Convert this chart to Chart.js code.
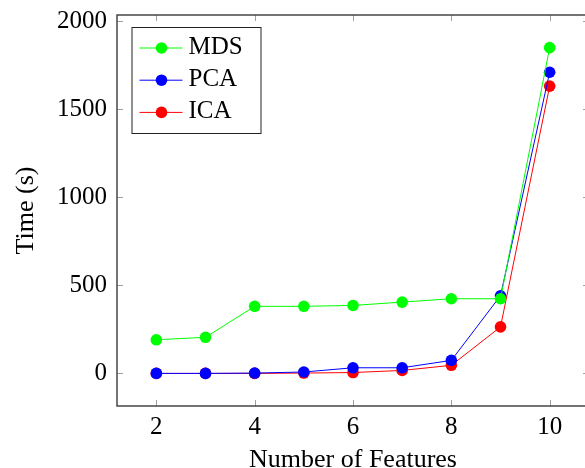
<!DOCTYPE html>
<html>
<head>
<meta charset="utf-8">
<script src="https://cdn.jsdelivr.net/npm/chart.js@4/dist/chart.umd.min.js"></script>
<style>
  html, body { margin: 0; padding: 0; overflow: hidden; background: #fff; }
</style>
</head>
<body>
<canvas id="timeChart" width="600" height="468"></canvas>
<script>
// Data
var features = [2, 3, 4, 5, 6, 7, 8, 9, 10];
var mdsTime = [191, 205, 381, 381, 386, 405, 424, 424, 1850];
var pcaTime = [0, 0, 2, 8, 32, 32, 74, 441, 1710];
var icaTime = [0, 0, 0, 2, 5, 17, 46, 264, 1631];
var xTicks = [2, 4, 6, 8, 10];
var yTicks = [0, 500, 1000, 1500, 2000];

var serif = 'Liberation Serif';

function points(values) {
  return features.map(function (f, i) { return { x: f, y: values[i] }; });
}

function series(label, values, color) {
  return {
    label: label,
    data: points(values),
    borderColor: color,
    backgroundColor: color,
    borderWidth: 1,
    pointRadius: 5.8,
    pointHoverRadius: 5.8,
    pointBorderWidth: 0,
    tension: 0
  };
}

// pgfplots-like frame with inward tick marks
var framePlugin = {
  id: 'frame',
  beforeDatasetsDraw: function (chart) {
    var ctx = chart.ctx, a = chart.chartArea;
    var xs = chart.scales.x, ys = chart.scales.y;
    ctx.save();
    ctx.strokeStyle = '#a0a0a0';
    ctx.lineWidth = 1;
    ctx.beginPath();
    xTicks.forEach(function (v) {
      var px = Math.round(xs.getPixelForValue(v)) + 0.5;
      ctx.moveTo(px, a.bottom); ctx.lineTo(px, a.bottom - 6);
      ctx.moveTo(px, a.top); ctx.lineTo(px, a.top + 6);
    });
    yTicks.forEach(function (v) {
      var py = Math.round(ys.getPixelForValue(v)) + 0.5;
      ctx.moveTo(a.left, py); ctx.lineTo(a.left + 6, py);
      ctx.moveTo(a.right, py); ctx.lineTo(a.right - 6, py);
    });
    ctx.stroke();
    ctx.strokeStyle = '#3a3a3a';
    ctx.lineWidth = 1.4;
    ctx.strokeRect(a.left, a.top, a.right - a.left, a.bottom - a.top);
    ctx.restore();
  }
};

// boxed legend in the upper-left corner of the plot
var legendPlugin = {
  id: 'boxLegend',
  afterDatasetsDraw: function (chart) {
    var ctx = chart.ctx, a = chart.chartArea;
    var bx = a.left + 14.5, by = a.top + 12, bw = 129, bh = 106;
    ctx.save();
    ctx.fillStyle = '#fff';
    ctx.fillRect(bx, by, bw, bh);
    ctx.strokeStyle = '#222';
    ctx.lineWidth = 1;
    ctx.strokeRect(bx + 0.5, by + 0.5, bw, bh);
    chart.data.datasets.forEach(function (ds, i) {
      var ry = by + 21 + i * 32.2;
      ctx.strokeStyle = ds.borderColor;
      ctx.lineWidth = 1;
      ctx.beginPath();
      ctx.moveTo(bx + 8, ry); ctx.lineTo(bx + 51, ry);
      ctx.stroke();
      ctx.fillStyle = ds.backgroundColor;
      ctx.beginPath();
      ctx.arc(bx + 30, ry, 5.8, 0, Math.PI * 2);
      ctx.fill();
      ctx.fillStyle = '#000';
      ctx.font = '25px "' + serif + '"';
      ctx.textBaseline = 'middle';
      ctx.textAlign = 'left';
      ctx.fillText(ds.label, bx + 57, ry - 1);
    });
    ctx.restore();
  }
};

var ctx = document.getElementById('timeChart').getContext('2d');

var chart = new Chart(ctx, {
  type: 'line',
  data: {
    datasets: [
      series('MDS', mdsTime, '#00ff00'),
      series('PCA', pcaTime, '#0000ff'),
      series('ICA', icaTime, '#ff0000')
    ]
  },
  options: {
    responsive: false,
    animation: false,
    layout: { padding: { top: 15, right: 11, left: 0, bottom: 0 } },
    plugins: {
      legend: { display: false },
      tooltip: { enabled: false }
    },
    scales: {
      x: {
        type: 'linear',
        min: 1.2,
        max: 10.8,
        afterBuildTicks: function (s) { s.ticks = xTicks.map(function (v) { return { value: v }; }); },
        afterFit: function (s) { s.height = 62; s.paddingLeft = 0; s.paddingRight = 0; },
        grid: { display: false, drawTicks: false },
        border: { display: false },
        ticks: {
          color: '#000', padding: 6, font: { family: serif, size: 25 },
          callback: function (v) { return String(v); }
        },
        title: {
          display: true,
          text: 'Number of Features',
          color: '#000',
          padding: { top: 0, bottom: -8 },
          font: { family: serif, size: 26 }
        }
      },
      y: {
        type: 'linear',
        min: -185,
        max: 2035,
        afterBuildTicks: function (s) { s.ticks = yTicks.map(function (v) { return { value: v }; }); },
        afterFit: function (s) { s.width = 117; s.paddingTop = 0; s.paddingBottom = 0; },
        grid: { display: false, drawTicks: false },
        border: { display: false },
        ticks: {
          color: '#000', padding: 10, font: { family: serif, size: 25 },
          callback: function (v) { return String(v); }
        },
        title: {
          display: true,
          text: 'Time (s)',
          color: '#000',
          padding: { top: 11, bottom: 0 },
          font: { family: serif, size: 26 }
        }
      }
    }
  },
  plugins: [framePlugin, legendPlugin]
});
</script>
</body>
</html>
